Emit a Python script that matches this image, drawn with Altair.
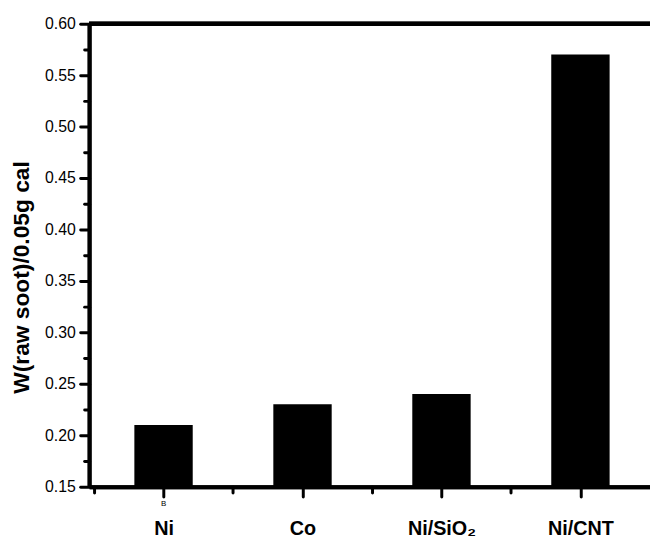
import json
import altair as alt
import pandas as pd

# ---- data ----
categories = ["Ni", "Co", "Ni/SiO\u2082", "Ni/CNT"]
positions = [1, 2, 3, 4]
values = [0.21, 0.23, 0.24, 0.57]

y_major = [0.15, 0.20, 0.25, 0.30, 0.35, 0.40, 0.45, 0.50, 0.55, 0.60]
y_minor = [0.175, 0.225, 0.275, 0.325, 0.375, 0.425, 0.475, 0.525, 0.575]
x_major = [1, 2, 3, 4]
x_minor = [0.5, 1.5, 2.5, 3.5]
y_title = "W(raw soot)/0.05g cal"
note_text = ["B"]
note_pos = [1]

df = pd.DataFrame({"pos": positions, "value": values, "cat": categories})
note_df = pd.DataFrame({"pos": note_pos, "txt": note_text})

FONT = "Liberation Sans"

xscale = alt.Scale(domain=[0.5, 4.465], nice=False, zero=False)
yscale = alt.Scale(domain=[0.15, 0.60], nice=False, zero=False)

x_label_expr = json.dumps(categories) + "[round(datum.value) - 1]"

common = dict(
    grid=False,
    domainColor="black",
    domainWidth=4,
    tickColor="black",
    tickWidth=3,
    tickCap="round",
    labelColor="black",
    labelFont=FONT,
    offset=0,
)

x_axis = alt.Axis(
    values=x_major,
    labelExpr=x_label_expr,
    title=None,
    tickSize=10,
    labelFontSize=20,
    labelFontWeight="bold",
    labelPadding=22,
    labelFlush=False,
    orient="bottom",
    **common,
)
x_axis_minor = alt.Axis(
    values=x_minor,
    labels=False,
    title=None,
    tickSize=6,
    orient="bottom",
    **common,
)

y_axis = alt.Axis(
    values=y_major,
    format=".2f",
    title=y_title,
    tickSize=9,
    labelFontSize=16,
    labelPadding=5,
    labelFlush=False,
    orient="left",
    titleFont=FONT,
    titleFontSize=23,
    titleFontWeight="bold",
    titleColor="black",
    titleX=-68,
    titleY=256,
    titleBaseline="middle",
    titleAngle=270,
    **common,
)
y_axis_minor = alt.Axis(
    values=y_minor,
    labels=False,
    title=None,
    tickSize=5,
    orient="left",
    **common,
)

bars = alt.Chart(df).mark_bar(color="black", size=59).encode(
    x=alt.X("pos:Q", scale=xscale, axis=x_axis),
    y=alt.Y("value:Q", scale=yscale, axis=y_axis),
    y2=alt.datum(0.15),
)

minor = alt.Chart(df).mark_point(opacity=0).encode(
    x=alt.X("pos:Q", scale=xscale, axis=x_axis_minor),
    y=alt.Y("value:Q", scale=yscale, axis=y_axis_minor),
)

top_line = alt.Chart(df).mark_rule(color="black", strokeWidth=4).encode(
    y=alt.Y(datum=0.60, axis=None),
)

note = alt.Chart(note_df).mark_text(
    font=FONT, fontSize=8, color="black", baseline="middle", dy=18
).encode(
    x=alt.X("pos:Q", scale=xscale, axis=None),
    y=alt.Y(datum=0.15, axis=None),
    text="txt:N",
)

chart = alt.layer(minor, bars, top_line, note).resolve_axis(
    x="independent", y="independent"
).properties(
    width=567,
    height=468,
    padding={"left": 82, "top": 13, "right": 0, "bottom": 50},
    autosize=alt.AutoSizeParams(type="none"),
    background="white",
).configure_view(stroke=None)

chart.save("out.html", embed_options={"renderer": "svg", "actions": False})
